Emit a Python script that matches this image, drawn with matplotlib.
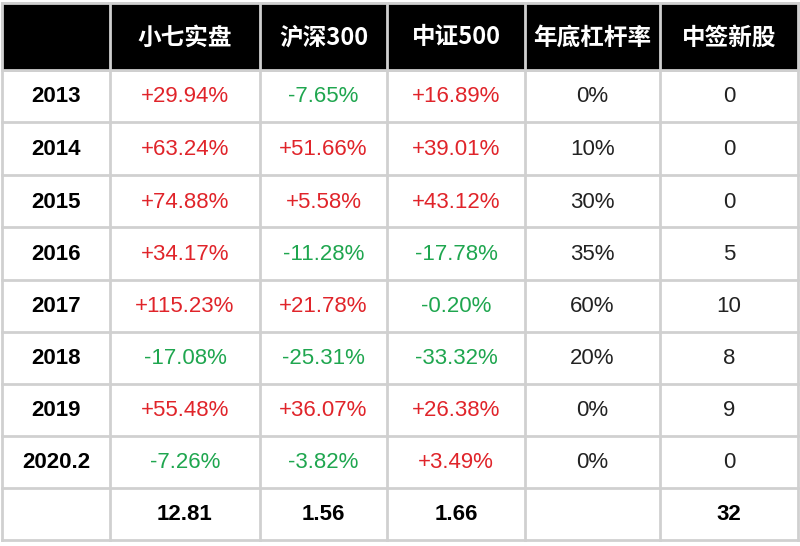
import matplotlib
matplotlib.use('Agg')
import matplotlib.pyplot as plt
from matplotlib.patches import Rectangle

# data
columns = ['小七实盘', '沪深300', '中证500', '年底杠杆率', '中签新股']
years = ['2013', '2014', '2015', '2016', '2017', '2018', '2019', '2020.2']
xiaoqi = ['+29.94%', '+63.24%', '+74.88%', '+34.17%', '+115.23%', '-17.08%', '+55.48%', '-7.26%']
hs300 = ['-7.65%', '+51.66%', '+5.58%', '-11.28%', '+21.78%', '-25.31%', '+36.07%', '-3.82%']
zz500 = ['+16.89%', '+39.01%', '+43.12%', '-17.78%', '-0.20%', '-33.32%', '+26.38%', '+3.49%']
leverage = ['0%', '10%', '30%', '35%', '60%', '20%', '0%', '0%']
ipos = ['0', '0', '0', '5', '10', '8', '9', '0']
totals = ['', '12.81', '1.56', '1.66', '', '32']

col_edges = [2, 110, 260, 387, 525, 660, 798]
row_edges = [3, 70, 122, 175, 227, 280, 332, 384, 436, 488, 540]

RED = '#e0242a'
GREEN = '#1fa64f'
GRID = '#d0d0d0'

fig = plt.figure(figsize=(8, 5.46), dpi=100)
ax = fig.add_axes([0, 0, 1, 1])
ax.set_xlim(0, 800)
ax.set_ylim(546, 0)
ax.axis('off')

def cx(i):
    return (col_edges[i] + col_edges[i + 1]) / 2

def cy(j):
    return (row_edges[j] + row_edges[j + 1]) / 2 + 1

# header
ax.add_patch(Rectangle((col_edges[0], row_edges[0]), col_edges[-1] - col_edges[0],
                       row_edges[1] - row_edges[0], color='black', zorder=1))
for i, name in enumerate(columns):
    ax.text(cx(i + 1), cy(0), name, color='white', ha='center', va='center',
            fontsize=17, fontweight='bold', family='Noto Sans CJK SC', zorder=3)

# grid
for x in col_edges:
    ax.plot([x, x], [row_edges[0], row_edges[-1]], color=GRID, lw=2, zorder=2)
for y in row_edges:
    ax.plot([col_edges[0], col_edges[-1]], [y, y], color=GRID, lw=2, zorder=2)

def pct_color(s):
    return RED if s.startswith('+') else GREEN

num_font = 'Liberation Sans'
for j, yr in enumerate(years):
    y = cy(j + 1)
    ax.text(cx(0), y, yr, ha='center', va='center', fontsize=16,
            fontweight='bold', family=num_font)
    for i, vals in enumerate([xiaoqi, hs300, zz500]):
        ax.text(cx(i + 1), y, vals[j], ha='center', va='center', fontsize=16,
                color=pct_color(vals[j]), family=num_font)
    ax.text(cx(4), y, leverage[j], ha='center', va='center', fontsize=16,
            color='#222222', family=num_font)
    ax.text(cx(5), y, ipos[j], ha='center', va='center', fontsize=16,
            color='#222222', family=num_font)

for i, t in enumerate(totals):
    ax.text(cx(i), cy(len(years) + 1), t, ha='center', va='center', fontsize=16,
            fontweight='bold', family=num_font)

fig.savefig('out.png', dpi=100, facecolor='white')
